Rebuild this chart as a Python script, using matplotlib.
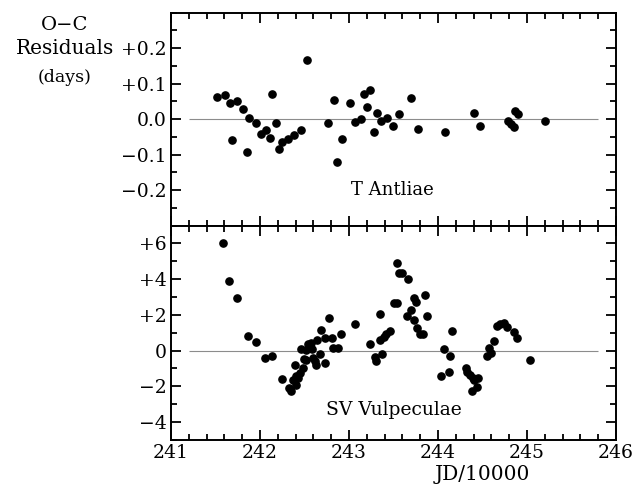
import numpy as np
import matplotlib
matplotlib.use('Agg')
import matplotlib.pyplot as plt
from matplotlib.ticker import MultipleLocator

# T Antliae: JD/10000 and O-C (days)
antJD = [241.52, 241.61, 241.66, 241.69, 241.745, 241.81, 241.85, 241.88,
         241.95, 242.01, 242.07, 242.11, 242.14, 242.18, 242.21, 242.25,
         242.31, 242.38, 242.46, 242.53, 242.76, 242.83, 242.86, 242.92,
         243.01, 243.07, 243.13, 243.17, 243.20, 243.24, 243.28, 243.31,
         243.36, 243.43, 243.49, 243.56, 243.70, 243.77, 244.08, 244.40,
         244.47, 244.79, 244.82, 244.85, 244.87, 244.90, 245.20]
antOC = [0.061, 0.068, 0.045, -0.059, 0.050, 0.027, -0.093, 0.004,
         -0.010, -0.041, -0.030, -0.053, 0.070, -0.010, -0.083, -0.066,
         -0.057, -0.044, -0.030, 0.165, -0.010, 0.054, -0.120, -0.056,
         0.044, -0.008, -0.001, 0.070, 0.035, 0.081, -0.036, 0.018,
         -0.005, 0.002, -0.020, 0.014, 0.059, -0.029, -0.036, 0.016,
         -0.020, -0.005, -0.014, -0.022, 0.023, 0.015, -0.006]

# SV Vulpeculae: JD/10000 and O-C (days)
vulJD = [241.58, 241.65, 241.745, 241.87, 241.96, 242.06, 242.14, 242.25,
         242.33, 242.35, 242.37, 242.39, 242.40, 242.41, 242.43, 242.45,
         242.46, 242.48, 242.49, 242.52, 242.52, 242.54, 242.57, 242.58,
         242.60, 242.62, 242.63, 242.64, 242.67, 242.69, 242.73, 242.73,
         242.78, 242.81, 242.82, 242.88, 242.91,
         243.07, 243.24, 243.29, 243.30, 243.35, 243.35, 243.37, 243.39,
         243.42, 243.46, 243.51, 243.54, 243.54, 243.56, 243.60, 243.65,
         243.66, 243.70, 243.73, 243.73, 243.75, 243.76, 243.80, 243.83,
         243.85, 243.88,
         244.03, 244.07, 244.12, 244.14, 244.16, 244.31, 244.33, 244.36,
         244.38, 244.39, 244.41, 244.44, 244.45, 244.55, 244.57, 244.59,
         244.63, 244.66, 244.70, 244.74, 244.78, 244.85, 244.89, 245.03]
vulOC = [6.00, 3.90, 2.97, 0.84, 0.50, -0.41, -0.32, -1.59,
         -2.10, -2.24, -1.66, -0.82, -1.42, -1.95, -1.52, -1.25,
         0.07, -0.96, -0.49, -0.51, 0.02, 0.35, 0.41, 0.07,
         -0.39, -0.58, -0.81, 0.62, -0.19, 1.16, -0.71, 0.73,
         1.81, 0.69, 0.13, 0.15, 0.95,
         1.51, 0.39, -0.36, -0.58, 2.03, 0.62, -0.17, 0.78,
         0.95, 1.10, 2.65, 2.65, 4.89, 4.35, 4.35, 1.92,
         4.03, 2.28, 2.97, 1.70, 2.72, 1.29, 0.91, 0.95,
         3.10, 1.94,
         -1.42, 0.09, -1.18, -0.28, 1.08, -0.95, -1.18, -1.37,
         -2.26, -1.51, -1.65, -2.06, -1.51, -0.28, 0.13, -0.11,
         0.54, 1.36, 1.47, 1.53, 1.31, 1.03, 0.69, -0.50]

xTicks = [241, 242, 243, 244, 245, 246]
antTicks = [0.2, 0.1, 0.0, -0.1, -0.2]
antLabels = ['+0.2', '+0.1', '0.0', '\u22120.1', '\u22120.2']
vulTicks = [6, 4, 2, 0, -2, -4]
vulLabels = ['+6', '+4', '+2', '0', '\u22122', '\u22124']

plt.rcParams['font.family'] = 'DejaVu Serif'

fig = plt.figure(figsize=(6.34, 4.88), dpi=100)
top = fig.add_axes([0.2697, 0.5379, 0.7019, 0.4363])
bot = fig.add_axes([0.2697, 0.0984, 0.7019, 0.4395])


def styleAxes(ax, minorY):
    for s in ax.spines.values():
        s.set_linewidth(1.4)
    ax.set_xlim(241, 246)
    ax.xaxis.set_minor_locator(MultipleLocator(0.2))
    ax.yaxis.set_minor_locator(MultipleLocator(minorY))
    ax.tick_params(which='both', direction='in', top=True, right=True,
                   width=1.3, labelsize=13.5, pad=3)
    ax.tick_params(which='major', length=7)
    ax.tick_params(which='minor', length=4)
    ax.hlines(0, 241.2, 245.8, color='0.55', lw=0.8, zorder=1)


styleAxes(top, 0.05)
top.plot(antJD, antOC, 'o', color='black', ms=5.2, zorder=3)
top.set_ylim(-0.3, 0.3)
top.set_yticks(antTicks)
top.set_yticklabels(antLabels)
top.set_xticks(xTicks)
top.tick_params(labelbottom=False)
top.text(243.49, -0.2, 'T Antliae', ha='center', va='center', fontsize=13)

styleAxes(bot, 1)
bot.plot(vulJD, vulOC, 'o', color='black', ms=5.2, zorder=3)
bot.set_ylim(-5, 7)
bot.set_yticks(vulTicks)
bot.set_yticklabels(vulLabels)
bot.set_xticks(xTicks)
bot.text(243.5, -3.3, 'SV Vulpeculae', ha='center', va='center',
         fontsize=13.5)

fig.text(482 / 634, 0.008, 'JD/10000', ha='center', va='bottom',
         fontsize=14.5)
fig.text(65 / 634, 1 - 25 / 488, 'O\u2212C', ha='center', va='center',
         fontsize=14)
fig.text(65 / 634, 1 - 48 / 488, 'Residuals', ha='center', va='center',
         fontsize=14.5)
fig.text(65 / 634, 1 - 77 / 488, '(days)', ha='center', va='center',
         fontsize=12.5)

fig.savefig('out.png', dpi=100)
